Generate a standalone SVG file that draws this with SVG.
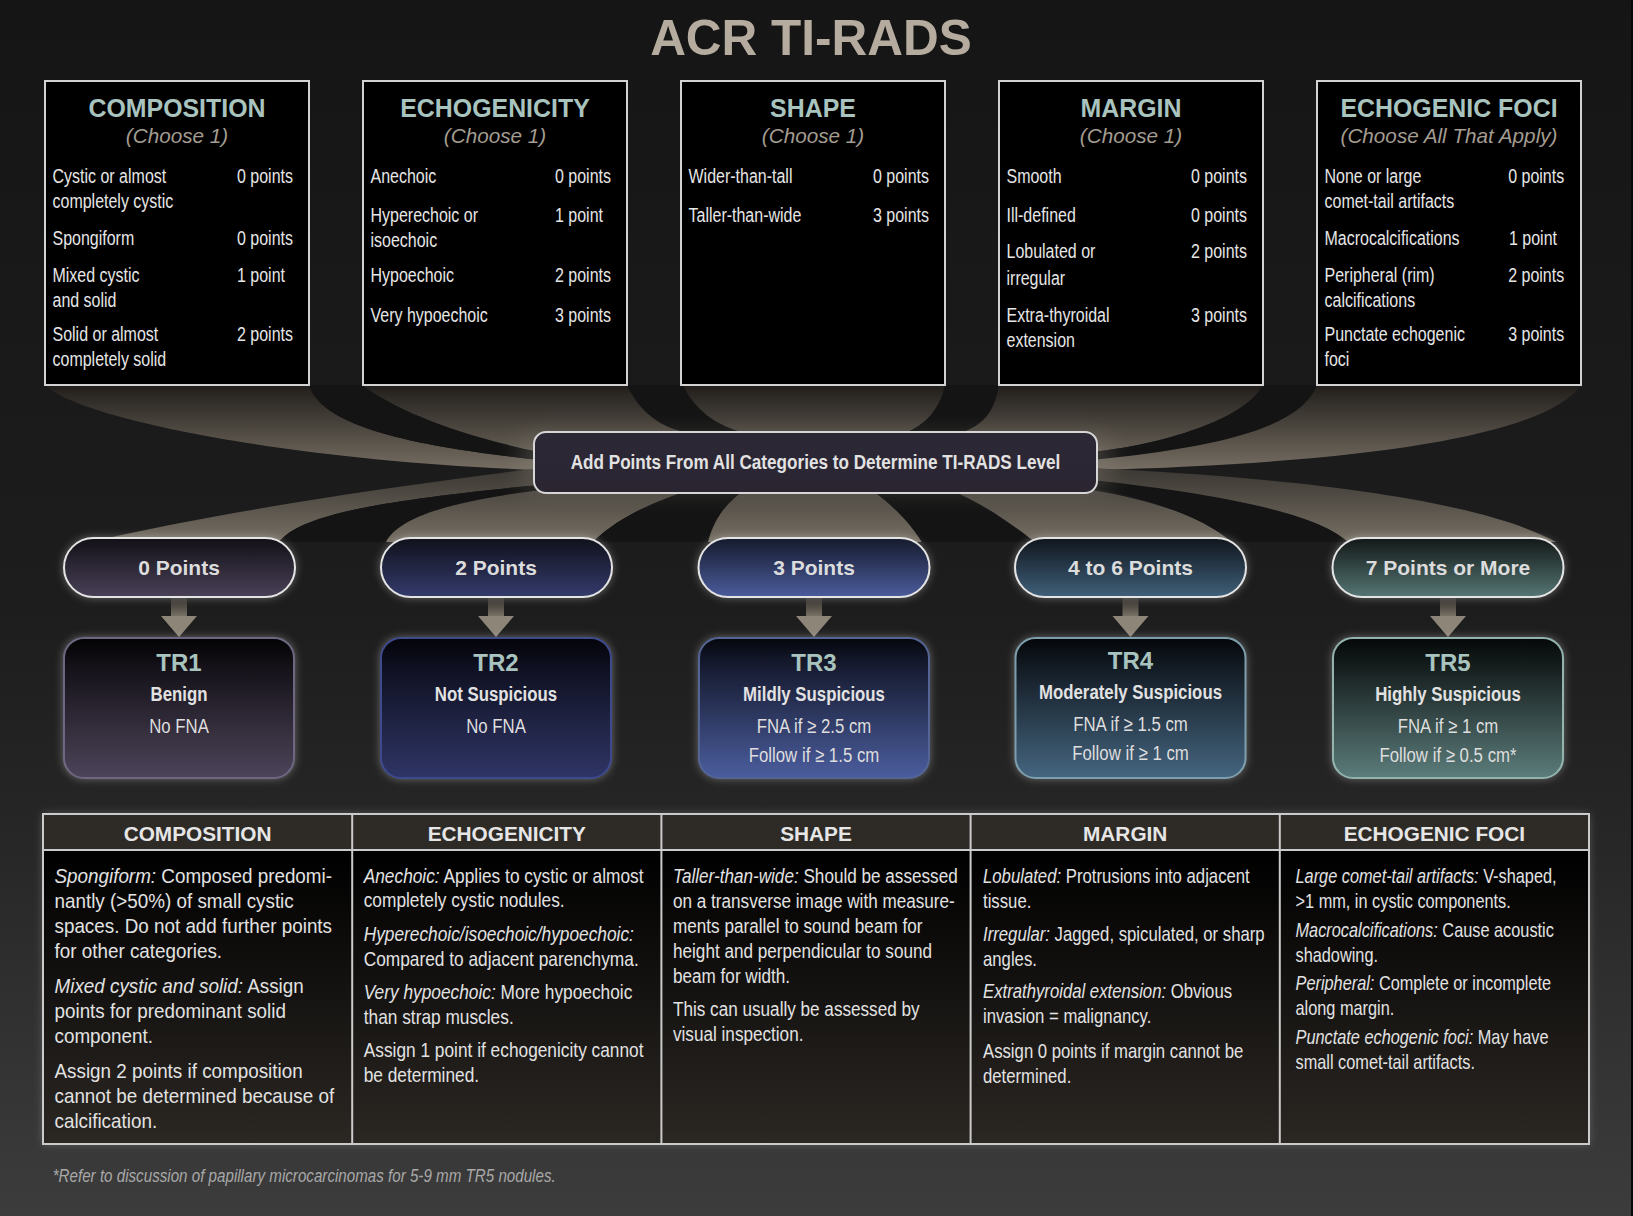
<svg xmlns="http://www.w3.org/2000/svg" width="1633" height="1216" viewBox="0 0 1633 1216">
  <defs>
    <style>
      .hd { font-family: 'Liberation Sans', Arial, sans-serif; font-weight: bold; font-size: 24.9px; fill: #a9c3bf; text-anchor: middle; }
      .ch { font-family: 'Liberation Sans', Arial, sans-serif; font-style: italic; font-size: 20.7px; fill: #a39c91; text-anchor: middle; }
      .it { font-family: 'Liberation Sans', Arial, sans-serif; font-size: 19.5px; fill: #e6e6e6; }
      .pl { font-family: 'Liberation Sans', Arial, sans-serif; font-weight: bold; font-size: 21px; fill: #dcdcdc; text-anchor: middle; }
      .trh { font-family: 'Liberation Sans', Arial, sans-serif; font-weight: bold; font-size: 24px; fill: #a9c3bf; text-anchor: middle; }
      .trs { font-family: 'Liberation Sans', Arial, sans-serif; font-weight: bold; font-size: 20.5px; fill: #e2e2e2; text-anchor: middle; }
      .trt { font-family: 'Liberation Sans', Arial, sans-serif; font-size: 20.5px; fill: #dedede; text-anchor: middle; }
      .th { font-family: 'Liberation Sans', Arial, sans-serif; font-weight: bold; font-size: 20.8px; fill: #e6e6e6; text-anchor: middle; }
      .tb { font-family: 'Liberation Sans', Arial, sans-serif; font-size: 21px; fill: #e2e2e2; }
      .i { font-style: italic; }
      .fn { font-family: 'Liberation Sans', Arial, sans-serif; font-style: italic; font-size: 18.5px; fill: #a8a8a8; }
      .cat { fill: #000; stroke: #d2d2d2; stroke-width: 2; }
      .lit { fill: url(#beamTop); }
      .litB { fill: url(#beamBot); }
      .shade { fill: #141414; }
      .halo { fill: #d4d4d4; opacity: 0.5; filter: url(#soft); }
      .pillbox { stroke: #e4e4e4; stroke-width: 2; }
      .trbox { stroke-width: 2; }
      .shaft { fill: url(#shaftG); }
      .head { fill: #8d8578; }
    </style>
    <linearGradient id="bg" x1="0" y1="0" x2="0" y2="1">
      <stop offset="0" stop-color="#151515"/>
      <stop offset="0.5" stop-color="#1d1d1d"/>
      <stop offset="0.68" stop-color="#262626"/>
      <stop offset="1" stop-color="#3c3c3c"/>
    </linearGradient>
    <linearGradient id="beamTop" gradientUnits="userSpaceOnUse" x1="0" y1="386" x2="0" y2="468">
      <stop offset="0" stop-color="#221f1c"/>
      <stop offset="1" stop-color="#746c61"/>
    </linearGradient>
    <linearGradient id="beamBot" gradientUnits="userSpaceOnUse" x1="0" y1="472" x2="0" y2="540">
      <stop offset="0" stop-color="#3d3934"/>
      <stop offset="1" stop-color="#746d62"/>
    </linearGradient>
    <linearGradient id="shaftG" x1="0" y1="0" x2="0" y2="1">
      <stop offset="0" stop-color="#2c2925"/>
      <stop offset="1" stop-color="#7b7468"/>
    </linearGradient>
    <linearGradient id="mid" x1="0" y1="0" x2="0" y2="1">
      <stop offset="0" stop-color="#2d2836"/>
      <stop offset="1" stop-color="#2a2531"/>
    </linearGradient>
    <linearGradient id="pg0" x1="0" y1="0" x2="0" y2="1"><stop offset="0" stop-color="#121017"/><stop offset="1" stop-color="#4a4157"/></linearGradient>
    <linearGradient id="pg1" x1="0" y1="0" x2="0" y2="1"><stop offset="0" stop-color="#10111b"/><stop offset="1" stop-color="#343b6c"/></linearGradient>
    <linearGradient id="pg2" x1="0" y1="0" x2="0" y2="1"><stop offset="0" stop-color="#151a2c"/><stop offset="1" stop-color="#4b5c9c"/></linearGradient>
    <linearGradient id="pg3" x1="0" y1="0" x2="0" y2="1"><stop offset="0" stop-color="#10151c"/><stop offset="1" stop-color="#40607a"/></linearGradient>
    <linearGradient id="pg4" x1="0" y1="0" x2="0" y2="1"><stop offset="0" stop-color="#121817"/><stop offset="1" stop-color="#557674"/></linearGradient>
    <linearGradient id="tg0" x1="0" y1="0" x2="0" y2="1"><stop offset="0" stop-color="#020203"/><stop offset="0.2" stop-color="#141118"/><stop offset="1" stop-color="#4c4459"/></linearGradient>
    <linearGradient id="tg1" x1="0" y1="0" x2="0" y2="1"><stop offset="0" stop-color="#030308"/><stop offset="0.2" stop-color="#0f1020"/><stop offset="1" stop-color="#2f3566"/></linearGradient>
    <linearGradient id="tg2" x1="0" y1="0" x2="0" y2="1"><stop offset="0" stop-color="#05070d"/><stop offset="0.2" stop-color="#161b30"/><stop offset="1" stop-color="#4b5d9e"/></linearGradient>
    <linearGradient id="tg3" x1="0" y1="0" x2="0" y2="1"><stop offset="0" stop-color="#04070a"/><stop offset="0.2" stop-color="#121a22"/><stop offset="1" stop-color="#456580"/></linearGradient>
    <linearGradient id="tg4" x1="0" y1="0" x2="0" y2="1"><stop offset="0" stop-color="#050808"/><stop offset="0.2" stop-color="#151d1d"/><stop offset="1" stop-color="#5b7d7b"/></linearGradient>
    <linearGradient id="tbody" x1="0" y1="0" x2="0" y2="1">
      <stop offset="0" stop-color="#000000"/>
      <stop offset="1" stop-color="#2b2723"/>
    </linearGradient>
    <filter id="soft" x="-20%" y="-40%" width="140%" height="180%">
      <feGaussianBlur stdDeviation="5"/>
    </filter>
    <filter id="wide" x="-30%" y="-60%" width="160%" height="220%">
      <feGaussianBlur stdDeviation="12"/>
    </filter>
  </defs>

  <!-- backdrop -->
  <rect x="0" y="0" width="1633" height="1216" fill="url(#bg)"/>
  <rect x="1631" y="0" width="2" height="1216" fill="#080808"/>

  <g id="title">
    <text x="811" y="55" font-family="'Liberation Sans', Arial, sans-serif" font-weight="bold" font-size="49.5" fill="#b5ab9e" text-anchor="middle">ACR TI-RADS</text>
  </g>

  <!-- light beams, shadows and arrows linking the stages -->
  <g id="connectors">
    <!-- beams from the five categories into the sum box -->
    <path class="lit" d="M45,385 L309,385 C322,428 420,447 540,460 L540,470 C300,462 80,420 45,385 Z"/>
    <path class="shade" d="M309,385 L362,385 C395,410 460,436 540,452 L540,460 C420,447 322,428 309,385 Z"/>
    <path class="lit" d="M362,385 L627,385 C640,412 660,428 690,433 L690,445 L540,452 C460,436 395,410 362,385 Z"/>
    <path class="shade" d="M627,385 L683,385 C695,410 715,425 745,433 L745,445 L690,445 L690,433 C660,428 640,412 627,385 Z"/>
    <path class="lit" d="M683,385 L945,385 C940,410 925,425 905,433 L905,445 L745,445 L745,433 C715,425 695,410 683,385 Z"/>
    <path class="shade" d="M945,385 L999,385 C995,410 985,425 960,433 L960,445 L905,445 L905,433 C925,425 940,410 945,385 Z"/>
    <path class="lit" d="M999,385 L1263,385 C1245,420 1160,445 1092,452 L1092,445 L960,445 L960,433 C985,425 995,410 999,385 Z"/>
    <path class="shade" d="M1263,385 L1317,385 C1300,430 1210,448 1092,460 L1092,452 C1160,445 1245,420 1263,385 Z"/>
    <path class="lit" d="M1317,385 L1581,385 C1550,430 1400,462 1092,470 L1092,460 C1210,448 1300,430 1317,385 Z"/>

    <!-- beams from the sum box out to the point ranges -->
    <path class="litB" d="M540,468 C380,488 220,512 89,542 L279,542 C300,515 380,500 540,485 Z"/>
    <path class="shade" d="M540,485 C380,500 300,515 279,542 L386,542 C400,515 460,500 540,492 Z"/>
    <path class="litB" d="M540,490 C460,500 400,515 386,542 L593,542 C620,515 660,500 690,490 Z"/>
    <path class="shade" d="M690,490 C660,500 620,515 593,542 L708,542 C715,515 730,500 745,490 Z"/>
    <path class="litB" d="M745,490 C730,500 715,515 708,542 L922,542 C905,515 885,500 872,490 Z"/>
    <path class="shade" d="M872,490 C885,500 905,515 922,542 L1035,542 C1000,515 975,500 950,490 Z"/>
    <path class="litB" d="M950,490 C975,500 1000,515 1035,542 L1232,542 C1200,515 1150,500 1092,490 Z"/>
    <path class="shade" d="M1092,487 C1150,500 1200,515 1232,542 L1348,542 C1320,515 1230,495 1092,480 Z"/>
    <path class="litB" d="M1092,480 C1230,495 1320,515 1348,542 L1556,542 C1480,500 1300,478 1092,468 Z"/>

    <!-- short arrows from each point range to its TR level -->
    <rect class="shaft" x="171" y="597" width="16" height="20"/>
    <polygon class="head" points="161,616 197,616 179,637"/>
    <rect class="shaft" x="488" y="597" width="16" height="20"/>
    <polygon class="head" points="478,616 514,616 496,637"/>
    <rect class="shaft" x="806" y="597" width="16" height="20"/>
    <polygon class="head" points="796,616 832,616 814,637"/>
    <rect class="shaft" x="1122.5" y="597" width="16" height="20"/>
    <polygon class="head" points="1112.5,616 1148.5,616 1130.5,637"/>
    <rect class="shaft" x="1440" y="597" width="16" height="20"/>
    <polygon class="head" points="1430,616 1466,616 1448,637"/>
  </g>

  <!-- category cards (item text is set condensed) -->
  <g id="cat-composition">
    <rect class="cat" x="45" y="81" width="264" height="304"/>
    <text class="hd" x="177" y="117">COMPOSITION</text>
    <text class="ch" x="177" y="143">(Choose 1)</text>
    <g class="it" transform="translate(52.5 0) scale(0.82 1)">
      <text x="0" y="183">Cystic or almost</text>
      <text x="0" y="208">completely cystic</text>
      <text x="225" y="183">0 points</text>
      <text x="0" y="245">Spongiform</text>
      <text x="225" y="245">0 points</text>
      <text x="0" y="282">Mixed cystic</text>
      <text x="0" y="307">and solid</text>
      <text x="225" y="282">1 point</text>
      <text x="0" y="341">Solid or almost</text>
      <text x="0" y="366">completely solid</text>
      <text x="225" y="341">2 points</text>
    </g>
  </g>

  <g id="cat-echogenicity">
    <rect class="cat" x="363" y="81" width="264" height="304"/>
    <text class="hd" x="495" y="117">ECHOGENICITY</text>
    <text class="ch" x="495" y="143">(Choose 1)</text>
    <g class="it" transform="translate(370.5 0) scale(0.82 1)">
      <text x="0" y="183">Anechoic</text>
      <text x="225" y="183">0 points</text>
      <text x="0" y="222">Hyperechoic or</text>
      <text x="0" y="247">isoechoic</text>
      <text x="225" y="222">1 point</text>
      <text x="0" y="282">Hypoechoic</text>
      <text x="225" y="282">2 points</text>
      <text x="0" y="322">Very hypoechoic</text>
      <text x="225" y="322">3 points</text>
    </g>
  </g>

  <g id="cat-shape">
    <rect class="cat" x="681" y="81" width="264" height="304"/>
    <text class="hd" x="813" y="117">SHAPE</text>
    <text class="ch" x="813" y="143">(Choose 1)</text>
    <g class="it" transform="translate(688.5 0) scale(0.82 1)">
      <text x="0" y="183">Wider-than-tall</text>
      <text x="225" y="183">0 points</text>
      <text x="0" y="222">Taller-than-wide</text>
      <text x="225" y="222">3 points</text>
    </g>
  </g>

  <g id="cat-margin">
    <rect class="cat" x="999" y="81" width="264" height="304"/>
    <text class="hd" x="1131" y="117">MARGIN</text>
    <text class="ch" x="1131" y="143">(Choose 1)</text>
    <g class="it" transform="translate(1006.5 0) scale(0.82 1)">
      <text x="0" y="183">Smooth</text>
      <text x="225" y="183">0 points</text>
      <text x="0" y="222">Ill-defined</text>
      <text x="225" y="222">0 points</text>
      <text x="0" y="258">Lobulated or</text>
      <text x="0" y="285">irregular</text>
      <text x="225" y="258">2 points</text>
      <text x="0" y="322">Extra-thyroidal</text>
      <text x="0" y="347">extension</text>
      <text x="225" y="322">3 points</text>
    </g>
  </g>

  <g id="cat-echogenic-foci">
    <rect class="cat" x="1317" y="81" width="264" height="304"/>
    <text class="hd" x="1449" y="117">ECHOGENIC FOCI</text>
    <text class="ch" x="1449" y="143">(Choose All That Apply)</text>
    <g class="it" transform="translate(1324.5 0) scale(0.82 1)">
      <text x="0" y="183">None or large</text>
      <text x="0" y="208">comet-tail artifacts</text>
      <text x="224" y="183">0 points</text>
      <text x="0" y="245">Macrocalcifications</text>
      <text x="225" y="245">1 point</text>
      <text x="0" y="282">Peripheral (rim)</text>
      <text x="0" y="307">calcifications</text>
      <text x="224" y="282">2 points</text>
      <text x="0" y="341">Punctate echogenic</text>
      <text x="0" y="366">foci</text>
      <text x="224" y="341">3 points</text>
    </g>
  </g>

  <!-- summing step -->
  <g id="sum">
    <rect x="520" y="436" width="591" height="54" rx="14" fill="#8a857c" opacity="0.35" filter="url(#wide)"/>
    <rect x="534" y="432" width="563" height="61" rx="12" fill="url(#mid)" stroke="#d6d6d6" stroke-width="2"/>
    <g transform="translate(815.5 0) scale(0.82 1)">
      <text x="0" y="469.5" font-family="'Liberation Sans', Arial, sans-serif" font-weight="bold" font-size="20.9" fill="#e2e2e2" text-anchor="middle">Add Points From All Categories to Determine TI-RADS Level</text>
    </g>
  </g>

  <!-- point ranges -->
  <g id="pts-0">
    <rect class="halo" x="64" y="538" width="231" height="59" rx="29.5"/>
    <rect class="pillbox" x="64" y="538" width="231" height="59" rx="29.5" fill="url(#pg0)"/>
    <text class="pl" x="179" y="575">0 Points</text>
  </g>
  <g id="pts-2">
    <rect class="halo" x="381" y="538" width="231" height="59" rx="29.5"/>
    <rect class="pillbox" x="381" y="538" width="231" height="59" rx="29.5" fill="url(#pg1)"/>
    <text class="pl" x="496" y="575">2 Points</text>
  </g>
  <g id="pts-3">
    <rect class="halo" x="698.5" y="538" width="231" height="59" rx="29.5"/>
    <rect class="pillbox" x="698.5" y="538" width="231" height="59" rx="29.5" fill="url(#pg2)"/>
    <text class="pl" x="814" y="575">3 Points</text>
  </g>
  <g id="pts-4-6">
    <rect class="halo" x="1015" y="538" width="231" height="59" rx="29.5"/>
    <rect class="pillbox" x="1015" y="538" width="231" height="59" rx="29.5" fill="url(#pg3)"/>
    <text class="pl" x="1130.5" y="575">4 to 6 Points</text>
  </g>
  <g id="pts-7">
    <rect class="halo" x="1332.5" y="538" width="231" height="59" rx="29.5"/>
    <rect class="pillbox" x="1332.5" y="538" width="231" height="59" rx="29.5" fill="url(#pg4)"/>
    <text class="pl" x="1448" y="575">7 Points or More</text>
  </g>

  <!-- TI-RADS levels -->
  <g id="tr1">
    <rect class="halo" x="64" y="638" width="230" height="140" rx="20"/>
    <rect class="trbox" x="64" y="638" width="230" height="140" rx="20" fill="url(#tg0)" stroke="#6f6782"/>
    <text class="trh" x="179" y="671">TR1</text>
    <g transform="translate(179 0) scale(0.82 1)">
      <text class="trs" x="0" y="701.5">Benign</text>
      <text class="trt" x="0" y="733">No FNA</text>
    </g>
  </g>
  <g id="tr2">
    <rect class="halo" x="381" y="638" width="230" height="140" rx="20"/>
    <rect class="trbox" x="381" y="638" width="230" height="140" rx="20" fill="url(#tg1)" stroke="#3e4a8e"/>
    <text class="trh" x="496" y="671">TR2</text>
    <g transform="translate(496 0) scale(0.82 1)">
      <text class="trs" x="0" y="701.5">Not Suspicious</text>
      <text class="trt" x="0" y="733">No FNA</text>
    </g>
  </g>
  <g id="tr3">
    <rect class="halo" x="699" y="638" width="230" height="140" rx="20"/>
    <rect class="trbox" x="699" y="638" width="230" height="140" rx="20" fill="url(#tg2)" stroke="#536495"/>
    <text class="trh" x="814" y="671">TR3</text>
    <g transform="translate(814 0) scale(0.82 1)">
      <text class="trs" x="0" y="701.5">Mildly Suspicious</text>
      <text class="trt" x="0" y="733">FNA if ≥ 2.5 cm</text>
      <text class="trt" x="0" y="762">Follow if ≥ 1.5 cm</text>
    </g>
  </g>
  <g id="tr4">
    <rect class="halo" x="1015.5" y="638" width="230" height="140" rx="20"/>
    <rect class="trbox" x="1015.5" y="638" width="230" height="140" rx="20" fill="url(#tg3)" stroke="#7d9eac"/>
    <text class="trh" x="1130.5" y="668.5">TR4</text>
    <g transform="translate(1130.5 0) scale(0.82 1)">
      <text class="trs" x="0" y="699">Moderately Suspicious</text>
      <text class="trt" x="0" y="731">FNA if ≥ 1.5 cm</text>
      <text class="trt" x="0" y="760.5">Follow if ≥ 1 cm</text>
    </g>
  </g>
  <g id="tr5">
    <rect class="halo" x="1333" y="638" width="230" height="140" rx="20"/>
    <rect class="trbox" x="1333" y="638" width="230" height="140" rx="20" fill="url(#tg4)" stroke="#93b4ad"/>
    <text class="trh" x="1448" y="671">TR5</text>
    <g transform="translate(1448 0) scale(0.82 1)">
      <text class="trs" x="0" y="701.5">Highly Suspicious</text>
      <text class="trt" x="0" y="733">FNA if ≥ 1 cm</text>
      <text class="trt" x="0" y="762">Follow if ≥ 0.5 cm*</text>
    </g>
  </g>

  <!-- definitions table -->
  <g id="table">
    <rect x="43" y="814" width="1546" height="330" fill="#9a9a9a" opacity="0.45" filter="url(#soft)"/>
    <rect x="43" y="814" width="1546" height="36" fill="#2e2b27"/>
    <rect x="43" y="850" width="1546" height="294" fill="url(#tbody)"/>
    <g fill="none" stroke="#cbcbcb" stroke-width="2">
      <rect x="43" y="814" width="1546" height="330"/>
      <line x1="43" y1="850" x2="1589" y2="850"/>
      <line x1="352.2" y1="814" x2="352.2" y2="1144"/>
      <line x1="661.4" y1="814" x2="661.4" y2="1144"/>
      <line x1="970.6" y1="814" x2="970.6" y2="1144"/>
      <line x1="1279.8" y1="814" x2="1279.8" y2="1144"/>
    </g>
    <text class="th" x="197.6" y="841">COMPOSITION</text>
    <text class="th" x="506.8" y="841">ECHOGENICITY</text>
    <text class="th" x="816" y="841">SHAPE</text>
    <text class="th" x="1125.2" y="841">MARGIN</text>
    <text class="th" x="1434.4" y="841">ECHOGENIC FOCI</text>

    <g class="tb" transform="translate(54.5 0) scale(0.898 1)">
      <text x="0" y="883"><tspan class="i">Spongiform:</tspan> Composed predomi-</text>
      <text x="0" y="908">nantly (&gt;50%) of small cystic</text>
      <text x="0" y="933">spaces. Do not add further points</text>
      <text x="0" y="958">for other categories.</text>
      <text x="0" y="993"><tspan class="i">Mixed cystic and solid:</tspan> Assign</text>
      <text x="0" y="1018">points for predominant solid</text>
      <text x="0" y="1043">component.</text>
      <text x="0" y="1078">Assign 2 points if composition</text>
      <text x="0" y="1103">cannot be determined because of</text>
      <text x="0" y="1128">calcification.</text>
    </g>
    <g class="tb" transform="translate(363.7 0) scale(0.824 1)">
      <text x="0" y="882.5"><tspan class="i">Anechoic:</tspan> Applies to cystic or almost</text>
      <text x="0" y="907.5">completely cystic nodules.</text>
      <text x="0" y="941"><tspan class="i">Hyperechoic/isoechoic/hypoechoic:</tspan></text>
      <text x="0" y="966">Compared to adjacent parenchyma.</text>
      <text x="0" y="999"><tspan class="i">Very hypoechoic:</tspan> More hypoechoic</text>
      <text x="0" y="1024">than strap muscles.</text>
      <text x="0" y="1057.5">Assign 1 point if echogenicity cannot</text>
      <text x="0" y="1082.5">be determined.</text>
    </g>
    <g class="tb" transform="translate(673 0) scale(0.816 1)">
      <text x="0" y="883"><tspan class="i">Taller-than-wide:</tspan> Should be assessed</text>
      <text x="0" y="908">on a transverse image with measure-</text>
      <text x="0" y="933">ments parallel to sound beam for</text>
      <text x="0" y="958">height and perpendicular to sound</text>
      <text x="0" y="983">beam for width.</text>
      <text x="0" y="1016">This can usually be assessed by</text>
      <text x="0" y="1041">visual inspection.</text>
    </g>
    <g class="tb" transform="translate(983 0) scale(0.797 1)">
      <text x="0" y="883"><tspan class="i">Lobulated:</tspan> Protrusions into adjacent</text>
      <text x="0" y="908">tissue.</text>
      <text x="0" y="941"><tspan class="i">Irregular:</tspan> Jagged, spiculated, or sharp</text>
      <text x="0" y="966">angles.</text>
      <text x="0" y="998.5"><tspan class="i">Extrathyroidal extension:</tspan> Obvious</text>
      <text x="0" y="1023.5">invasion = malignancy.</text>
      <text x="0" y="1058">Assign 0 points if margin cannot be</text>
      <text x="0" y="1083">determined.</text>
    </g>
    <g class="tb" transform="translate(1295.5 0) scale(0.777 1)">
      <text x="0" y="883"><tspan class="i">Large comet-tail artifacts:</tspan> V-shaped,</text>
      <text x="0" y="908">&gt;1 mm, in cystic components.</text>
      <text x="0" y="937"><tspan class="i">Macrocalcifications:</tspan> Cause acoustic</text>
      <text x="0" y="962">shadowing.</text>
      <text x="0" y="990.5"><tspan class="i">Peripheral:</tspan> Complete or incomplete</text>
      <text x="0" y="1015.5">along margin.</text>
      <text x="0" y="1044.5"><tspan class="i">Punctate echogenic foci:</tspan> May have</text>
      <text x="0" y="1069.5">small comet-tail artifacts.</text>
    </g>
  </g>

  <g id="footnote">
    <g transform="translate(52.7 0) scale(0.82 1)">
      <text class="fn" x="0" y="1182">*Refer to discussion of papillary microcarcinomas for 5-9 mm TR5 nodules.</text>
    </g>
  </g>
</svg>
